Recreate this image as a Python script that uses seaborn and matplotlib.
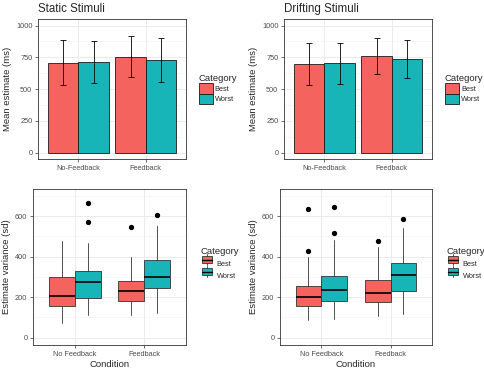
import numpy as np
import pandas as pd
import matplotlib
matplotlib.use("Agg")
import matplotlib.pyplot as plt
from matplotlib.patches import Patch, Rectangle
from matplotlib.lines import Line2D
from matplotlib.legend_handler import HandlerBase
from matplotlib.ticker import MultipleLocator
import seaborn as sns

# categories
categories = ['Best', 'Worst']
bar_conditions = ['No-Feedback', 'Feedback']
box_conditions = ['No Feedback', 'Feedback']
colors = {'Best': '#F4635D', 'Worst': '#17B5B7'}

# mean estimate (ms) with error bar limits, static stimuli
static_mean = {'Best': [708, 755], 'Worst': [716, 729]}
static_lo = {'Best': [532, 594], 'Worst': [550, 558]}
static_hi = {'Best': [889, 922], 'Worst': [879, 904]}

# mean estimate (ms) with error bar limits, drifting stimuli
drift_mean = {'Best': [699, 764], 'Worst': [704, 738]}
drift_lo = {'Best': [529, 620], 'Worst': [542, 589]}
drift_hi = {'Best': [864, 903], 'Worst': [864, 885]}

# box stats: lower whisker, q1, median, q3, upper whisker, outliers
static_box = {
    'Best': [(74, 155, 205, 301, 479, []), (111, 182, 231, 281, 398, [544])],
    'Worst': [(114, 195, 273, 327, 466, [569, 664]), (124, 245, 299, 383, 552, [605])],
}
drift_box = {
    'Best': [(89, 155, 200, 256, 400, [430, 635]), (106, 175, 220, 284, 450, [479])],
    'Worst': [(94, 180, 235, 307, 483, [516, 643]), (116, 230, 309, 370, 540, [585])],
}

sns.set_theme(style='whitegrid')
plt.rcParams['font.family'] = ['Liberation Sans', 'DejaVu Sans']

fig = plt.figure(figsize=(4.84, 3.70), dpi=100)
ax_tl = fig.add_axes([0.0785, 0.570, 0.306, 0.378])
ax_tr = fig.add_axes([0.5868, 0.570, 0.306, 0.378])
ax_bl = fig.add_axes([0.0682, 0.0676, 0.316, 0.4216])
ax_br = fig.add_axes([0.5785, 0.0676, 0.314, 0.4216])


def style_axes(ax, minor):
    ax.set_facecolor('white')
    ax.yaxis.set_minor_locator(MultipleLocator(minor))
    ax.grid(True, which='major', color='#EBEBEB', lw=0.7)
    ax.grid(True, which='minor', axis='y', color='#F2F2F2', lw=0.4)
    ax.set_axisbelow(True)
    for s in ax.spines.values():
        s.set_color('#333333')
        s.set_linewidth(0.6)
        s.set_visible(True)
    ax.tick_params(axis='both', which='major', length=2.5, width=0.5, color='#333333',
                   labelsize=5.3, labelcolor='#4D4D4D', pad=1.5, bottom=True, left=True)
    ax.tick_params(axis='both', which='minor', length=0)


def bar_panel(ax, title, mean, lo, hi):
    rows = []
    for cat in categories:
        for cond, m in zip(bar_conditions, mean[cat]):
            rows.append({'Condition': cond, 'Category': cat, 'Mean': m})
    df = pd.DataFrame(rows)
    sns.barplot(data=df, x='Condition', y='Mean', hue='Category', order=bar_conditions,
                hue_order=categories, palette=colors, width=0.9, errorbar=None,
                edgecolor='#1A1A1A', linewidth=0.6, saturation=1, legend=False, ax=ax)
    for i, cat in enumerate(categories):
        xs = [b.get_x() + b.get_width() / 2 for b in ax.containers[i]]
        m = np.array(mean[cat])
        ax.errorbar(xs, m, yerr=[m - np.array(lo[cat]), np.array(hi[cat]) - m], fmt='none',
                    ecolor='black', elinewidth=0.6, capsize=2.4, capthick=0.6, zorder=5)
    ax.set_xlim(-0.6, 1.6)
    ax.set_ylim(-50, 1050)
    ax.set_yticks([0, 250, 500, 750, 1000])
    ax.set_xlabel('')
    ax.set_ylabel('Mean estimate (ms)', fontsize=6.8, labelpad=3)
    ax.set_title(title, loc='left', fontsize=8.3, pad=5)
    style_axes(ax, 125)
    handles = [Patch(facecolor=colors[c], edgecolor='#1A1A1A', lw=0.6) for c in categories]
    leg = ax.legend(handles, categories, title='Category', loc='center left',
                    bbox_to_anchor=(1.06, 0.5), frameon=False, fontsize=5.3,
                    title_fontsize=6.8, handlelength=1.9, handleheight=1.8,
                    labelspacing=0.0, handletextpad=0.3, borderpad=0)
    leg._legend_box.align = 'left'


class BoxKey(HandlerBase):
    def create_artists(self, legend, orig, xd, yd, w, h, fontsize, trans):
        cx = xd + w / 2
        bw = w * 0.75
        whisk = Line2D([cx, cx], [yd - h * 0.1, yd + h * 1.1], color='#333333', lw=0.6, transform=trans)
        box = Rectangle((cx - bw / 2, yd + h * 0.12), bw, h * 0.76, facecolor=orig.get_facecolor(),
                        edgecolor='#333333', lw=0.6, transform=trans)
        med = Line2D([cx - bw / 2, cx + bw / 2], [yd + h / 2, yd + h / 2], color='black', lw=1.0, transform=trans)
        return [whisk, box, med]


def box_panel(ax, boxes):
    offsets = {'Best': -0.1875, 'Worst': 0.1875}
    for cat in categories:
        stats = []
        for lo, q1, med, q3, hi, fl in boxes[cat]:
            stats.append({'whislo': lo, 'q1': q1, 'med': med, 'q3': q3, 'whishi': hi, 'fliers': fl})
        pos = [k + offsets[cat] for k in range(len(box_conditions))]
        ax.bxp(stats, positions=pos, widths=0.375, patch_artist=True, showcaps=False,
               manage_ticks=False,
               boxprops=dict(facecolor=colors[cat], edgecolor='#333333', linewidth=0.6),
               medianprops=dict(color='black', linewidth=1.2),
               whiskerprops=dict(color='#333333', linewidth=0.6),
               flierprops=dict(marker='o', markerfacecolor='black', markeredgecolor='black',
                               markersize=2.8))
    ax.set_xlim(-0.6, 1.6)
    ax.set_ylim(-36, 734)
    ax.set_xticks(range(len(box_conditions)), box_conditions)
    ax.set_yticks([0, 200, 400, 600])
    ax.set_xlabel('Condition', fontsize=6.8, labelpad=1.5)
    ax.set_ylabel('Estimate variance (sd)', fontsize=6.8, labelpad=3)
    style_axes(ax, 100)
    handles = [Patch(facecolor=colors[c]) for c in categories]
    leg = ax.legend(handles, categories, title='Category', loc='center left',
                    bbox_to_anchor=(1.07, 0.52), frameon=False, fontsize=5.3,
                    title_fontsize=6.8, handlelength=1.8, handleheight=1.5,
                    labelspacing=0.4, handletextpad=0.4, borderpad=0,
                    handler_map={Patch: BoxKey()})
    leg._legend_box.align = 'left'


bar_panel(ax_tl, 'Static Stimuli', static_mean, static_lo, static_hi)
bar_panel(ax_tr, 'Drifting Stimuli', drift_mean, drift_lo, drift_hi)
box_panel(ax_bl, static_box)
box_panel(ax_br, drift_box)

fig.savefig('out.png', dpi=100, facecolor='white')
